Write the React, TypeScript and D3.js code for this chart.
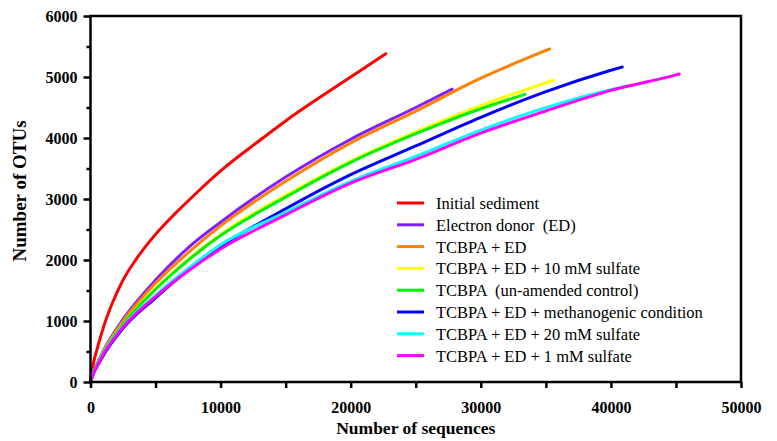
import React, { useEffect, useRef } from "react";
import * as d3 from "d3";

// rarefaction curves: [number of sequences, number of OTUs]
const initialSediment = [
  [0, 0], [250, 330], [500, 535], [1000, 900], [1500, 1200], [2000, 1450],
  [2500, 1670], [3500, 2010], [5000, 2420], [6500, 2760], [8000, 3070],
  [10000, 3460], [13000, 3960], [15000, 4280], [20000, 5000], [22700, 5380],
];
const electronDonor = [
  [0, 0], [250, 175], [500, 297], [1000, 517], [2500, 1028], [5000, 1670], [7500, 2200],
  [10000, 2620], [15000, 3360], [20000, 3980], [25000, 4500], [27800, 4800],
];
const tcbpaEd = [
  [0, 0], [250, 170], [500, 290], [1000, 505], [2500, 1000], [5000, 1620], [7500, 2120],
  [10000, 2560], [15000, 3290], [20000, 3920], [25000, 4440], [30000, 4980], [35300, 5460],
];
const sulfate10 = [
  [0, 0], [250, 168], [500, 285], [1000, 490], [2500, 950], [5000, 1530], [7500, 2010],
  [10000, 2420], [15000, 3060], [20000, 3620], [25000, 4100], [30000, 4530], [35600, 4946],
];
const unamended = [
  [0, 0], [250, 167], [500, 283], [1000, 487], [2500, 945], [5000, 1520], [7500, 1995],
  [10000, 2400], [15000, 3030], [20000, 3600], [25000, 4070], [30000, 4480], [33400, 4716],
];
const methanogenic = [
  [0, 0], [250, 145], [500, 250], [1000, 440], [2500, 880], [5000, 1380], [7500, 1830],
  [10000, 2220], [15000, 2840], [20000, 3400], [25000, 3870], [30000, 4340],
  [35000, 4760], [40000, 5110], [40870, 5164],
];
const sulfate20 = [
  [0, 0], [250, 158], [500, 270], [1000, 470], [2500, 910], [5000, 1420], [7500, 1860],
  [10000, 2250], [15000, 2780], [20000, 3290], [25000, 3700], [30000, 4130],
  [35000, 4497], [40000, 4790], [41280, 4852],
];
const sulfate1 = [
  [0, 0], [250, 155], [500, 265], [1000, 460], [2500, 900], [5000, 1400], [7500, 1820],
  [10000, 2180], [15000, 2740], [20000, 3260], [25000, 3650], [30000, 4080],
  [35000, 4443], [40000, 4780], [45000, 5035], [45250, 5050],
];

const seriesNames = [
  "Initial sediment",
  "Electron donor  (ED)",
  "TCBPA + ED",
  "TCBPA + ED + 10 mM sulfate",
  "TCBPA  (un-amended control)",
  "TCBPA + ED + methanogenic condition",
  "TCBPA + ED + 20 mM sulfate",
  "TCBPA + ED + 1 mM sulfate",
];
const seriesData = [
  initialSediment, electronDonor, tcbpaEd, sulfate10,
  unamended, methanogenic, sulfate20, sulfate1,
];
const colors = [
  "#ff0000", "#7f1fff", "#ff8000", "#ffff00",
  "#00f000", "#0000ff", "#00ffff", "#ff00ff",
];

const xTicks = [0, 10000, 20000, 30000, 40000, 50000];
const yTicks = [0, 1000, 2000, 3000, 4000, 5000, 6000];

const FONT = '"Liberation Serif", "Times New Roman", serif';

export default function App() {
  const ref = useRef<SVGSVGElement>(null);

  useEffect(() => {
    document.body.style.margin = "0";
    const svg = d3.select(ref.current);
    svg.selectAll("*").remove();
    svg.attr("font-family", FONT);

    const margin = { top: 16, right: 36, bottom: 59, left: 90.5 };
    const width = 777 - margin.left - margin.right;
    const height = 441 - margin.top - margin.bottom;

    const g = svg
      .append("g")
      .attr("transform", `translate(${margin.left},${margin.top})`);

    const x = d3.scaleLinear().domain([0, 50000]).range([0, width]);
    const y = d3.scaleLinear().domain([0, 6000]).range([height, 0]);

    // curves
    const line = d3
      .line<number[]>()
      .x((d) => x(d[0]))
      .y((d) => y(d[1]))
      .curve(d3.curveMonotoneX);

    seriesData.forEach((s, i) => {
      g.append("path")
        .datum(s)
        .attr("d", line)
        .attr("fill", "none")
        .attr("stroke", colors[i])
        .attr("stroke-width", 3)
        .attr("stroke-linecap", "round");
    });

    // frame
    g.append("rect")
      .attr("width", width)
      .attr("height", height)
      .attr("fill", "none")
      .attr("stroke", "black")
      .attr("stroke-width", 2.5);

    // x axis
    const xAxis = g
      .append("g")
      .attr("transform", `translate(0,${height})`)
      .call(
        d3
          .axisBottom(x)
          .tickValues(d3.range(0, 50001, 5000))
          .tickSize(6)
          .tickFormat((d) => (xTicks.includes(+d) ? String(d) : ""))
      )
      .attr("font-family", FONT);
    xAxis.select(".domain").remove();
    xAxis.selectAll(".tick line").attr("stroke-width", 2.5);
    xAxis
      .selectAll("text")
      .attr("dy", "1.35em")
      .attr("font-weight", "bold")
      .attr("font-size", 16)
      .attr("fill", "black");

    // y axis
    const yAxis = g
      .append("g")
      .call(
        d3
          .axisLeft(y)
          .tickValues(d3.range(0, 6001, 500))
          .tickSize(0)
          .tickFormat((d) => (yTicks.includes(+d) ? String(d) : ""))
      )
      .attr("font-family", FONT);
    yAxis.select(".domain").remove();
    yAxis
      .selectAll(".tick line")
      .attr("x2", (d: any) => (yTicks.includes(+d) ? -7 : -4))
      .attr("stroke-width", 2.5);
    yAxis
      .selectAll("text")
      .attr("x", -13)
      .attr("dy", "0.36em")
      .attr("font-weight", "bold")
      .attr("font-size", 16)
      .attr("fill", "black");

    // axis titles
    svg
      .append("text")
      .attr("x", margin.left + x(25000))
      .attr("y", 434)
      .attr("text-anchor", "middle")
      .attr("font-weight", "bold")
      .attr("font-size", 17.5)
      .text("Number of sequences");
    svg
      .append("text")
      .attr("transform", `translate(26,${margin.top + y(3000) - 8}) rotate(-90)`)
      .attr("text-anchor", "middle")
      .attr("font-weight", "bold")
      .attr("font-size", 19)
      .text("Number of OTUs");

    // legend
    const legend = svg.append("g").attr("transform", "translate(397,203)");
    seriesNames.forEach((name, i) => {
      const row = legend.append("g").attr("transform", `translate(0,${i * 21.8})`);
      row
        .append("line")
        .attr("x1", 0)
        .attr("x2", 27)
        .attr("stroke", colors[i])
        .attr("stroke-width", 3);
      row
        .append("text")
        .attr("x", 39)
        .attr("dy", "0.36em")
        .attr("font-size", 16.5)
        .style("white-space", "pre")
        .text(name);
    });
  }, []);

  return <svg ref={ref} width={777} height={441} style={{ display: "block", background: "white" }} />;
}
